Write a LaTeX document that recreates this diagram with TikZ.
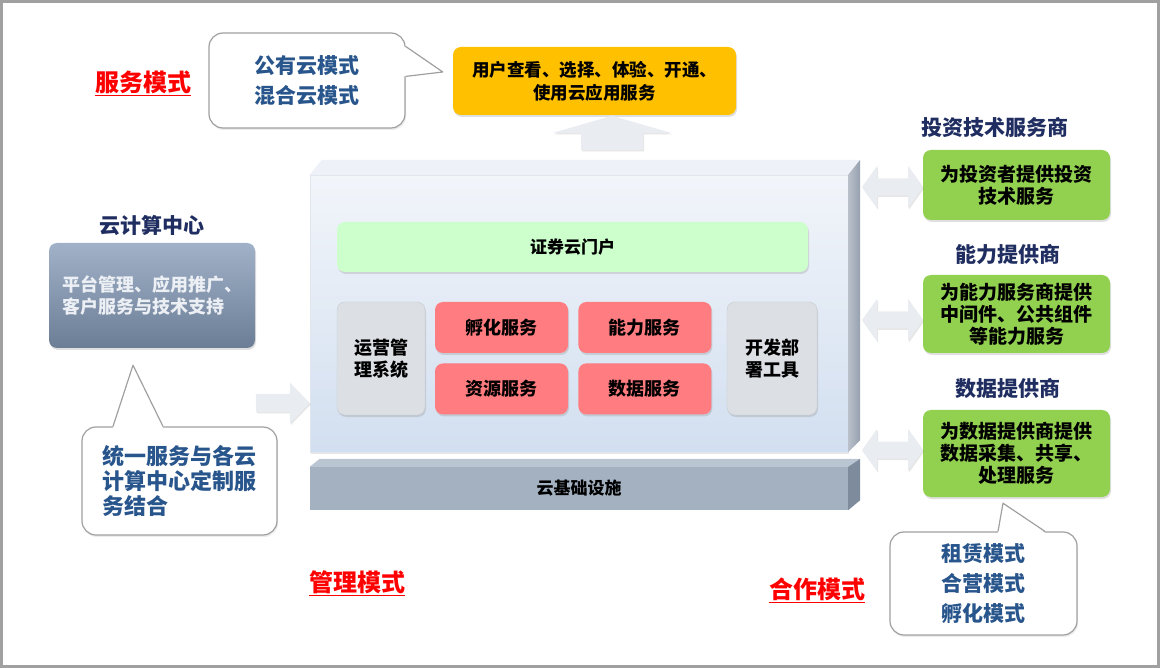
\documentclass[tikz,border=0pt]{standalone}
\usepackage{fontspec}
\setmainfont{Noto Sans CJK SC}
\usetikzlibrary{positioning}
\usetikzlibrary{calc}
\usetikzlibrary{shadows}

\definecolor{navy}{RGB}{31,45,96}
\definecolor{callblue}{RGB}{40,85,140}
\definecolor{modered}{RGB}{255,0,0}
\definecolor{useryellow}{RGB}{255,192,0}
\definecolor{partgreen}{RGB}{146,208,80}
\definecolor{portalgreen}{RGB}{204,255,204}
\definecolor{svcred}{RGB}{255,124,128}
\definecolor{toolgray}{RGB}{220,223,228}
\definecolor{toolline}{RGB}{200,204,210}
\definecolor{arrowgray}{RGB}{233,236,240}
\definecolor{framegray}{RGB}{160,160,160}
\definecolor{platline}{RGB}{225,230,238}
\definecolor{plattop}{RGB}{242,245,250}
\definecolor{platbottom}{RGB}{210,223,240}
\definecolor{platlid}{RGB}{238,242,248}
\definecolor{platsidel}{RGB}{185,192,202}
\definecolor{platsider}{RGB}{150,160,174}
\definecolor{infrafront}{RGB}{163,177,193}
\definecolor{infralid}{RGB}{186,197,210}
\definecolor{infraside}{RGB}{125,139,156}
\definecolor{cloudtop}{RGB}{160,177,200}
\definecolor{cloudbottom}{RGB}{108,126,150}
\definecolor{cloudtext}{RGB}{236,239,244}

\begin{document}
\begin{tikzpicture}[x=1pt, y=-1pt,
  box/.style={rectangle, rounded corners=8pt, align=center, inner sep=2pt, font=\bfseries\fontsize{18}{22}\selectfont, drop shadow={opacity=0.25, shadow xshift=1pt, shadow yshift=-2pt}},
  svcbox/.style={box, fill=svcred, minimum width=133pt, minimum height=51pt},
  toolbox/.style={box, fill=toolgray, draw=toolline, minimum width=88pt, minimum height=113pt},
  partbox/.style={box, fill=partgreen, minimum width=187pt, font=\bfseries\fontsize{19}{22}\selectfont},
  callbox/.style={rectangle, rounded corners=14pt, fill=white, draw=framegray, line width=1.2pt, align=center, text=callblue, font=\bfseries\fontsize{21}{30}\selectfont, drop shadow={opacity=0.15, shadow xshift=1pt, shadow yshift=-2pt}},
  calltail/.style={draw=framegray, line width=1.2pt, line join=round},
  modetitle/.style={text=modered, inner sep=0pt, font=\bfseries\fontsize{24}{28}\selectfont},
  parttitle/.style={text=navy, inner sep=0pt, font=\bfseries\fontsize{21}{24}\selectfont},
  blockarrow/.style={fill=arrowgray, drop shadow={opacity=0.2, shadow xshift=1pt, shadow yshift=-1.5pt}}
]
\useasboundingbox (0,0) rectangle (1160,668);
\draw[framegray, line width=3pt] (1.5,1.5) rectangle (1158.5,666.5);

% top: user service and service mode
\node[box, fill=useryellow, minimum width=283pt, minimum height=68pt, font=\bfseries\fontsize{17.5}{23}\selectfont] (userbox) at (594.5,81) {用户查看、选择、体验、开通、\\使用云应用服务};
\node[callbox, minimum width=196pt, minimum height=95pt] (modecall) at (307,80.5) {公有云模式\\混合云模式};
\coordinate (modetip) at ($(userbox.west)+(-10,-9)$);
\fill[white] ($(modecall.north east)+(-1.5,14)$) -- (modetip) -- ($(modecall.north east)+(-1.5,44)$) -- cycle;
\draw[calltail] ($(modecall.north east)+(0,14)$) -- (modetip) -- ($(modecall.north east)+(0,44)$);
\node[modetitle] (svcmode) at (143,83) {\underline{服务模式}};

% platform with three faces
\node[draw=platline, top color=plattop, bottom color=platbottom, minimum width=538pt, minimum height=277pt, drop shadow={opacity=0.2, shadow xshift=1pt, shadow yshift=-2pt}] (platform) at (579,313.5) {};
\fill[platlid] (platform.north west) -- ++(12,-15) -- ($(platform.north east)+(12,-15)$) -- (platform.north east) -- cycle;
\shade[left color=platsidel, right color=platsider] (platform.north east) -- ++(12,-15) -- ($(platform.south east)+(12,-12)$) -- (platform.south east) -- cycle;
\coordinate (uptail) at ($(platform.north)+(33,-25)$);
\fill[blockarrow] (uptail) ++(-31,0) -- ++(0,-17) -- ++(-28,0) -- ++(59,-17) -- ++(59,17) -- ++(-28,0) -- ++(0,17) -- cycle;

\node[box, fill=portalgreen, minimum width=471pt, minimum height=50pt, font=\bfseries\fontsize{17}{22}\selectfont] (portal) at (572.5,247) {证券云门户};
\node[svcbox] (incub) at (501.5,327.5) {孵化服务};
\node[svcbox, right=10pt of incub] (capab) {能力服务};
\node[svcbox, below=10pt of incub] (resrc) {资源服务};
\node[svcbox, right=10pt of resrc] (datasvc) {数据服务};
\node[toolbox] (opsys) at (381,358.5) {运营管\\理系统};
\node[toolbox, minimum width=90pt] (devtool) at (772,358.5) {开发部\\署工具};

% infrastructure slab
\node[fill=infrafront, minimum width=538pt, minimum height=43pt, font=\bfseries\fontsize{17}{22}\selectfont] (infra) at (579,488.5) {云基础设施};
\fill[infralid] (infra.north west) -- ++(10,-8) -- ($(infra.north east)+(12,-8)$) -- (infra.north east) -- cycle;
\fill[infraside] (infra.north east) -- ++(12,-8) -- ($(infra.south east)+(12,-10)$) -- (infra.south east) -- cycle;

% left: cloud center
\node[box, top color=cloudtop, bottom color=cloudbottom, text=cloudtext, minimum width=206pt, minimum height=105pt, align=left] (cloudbox) at (152,295.5) {平台管理、应用推广、\\客户服务与技术支持};
\node[parttitle, above=7pt of cloudbox] (cloudtitle) {云计算中心};
\coordinate (intail) at ($(platform.west)+(-54,89.5)$);
\fill[blockarrow] (intail) ++(0,-9) -- ++(34,0) -- ++(0,-11.5) -- ++(20,20.5) -- ++(-20,20.5) -- ++(0,-11.5) -- ++(-34,0) -- cycle;
\node[callbox, minimum width=195pt, minimum height=108pt, align=left, font=\bfseries\fontsize{22}{25}\selectfont] (mgmtcall) at (179.5,481) {统一服务与各云\\计算中心定制服\\务结合};
\coordinate (mgmttip) at ($(cloudbox.south)+(-19,17)$);
\fill[white] ($(mgmtcall.north)+(-66.5,1.5)$) -- (mgmttip) -- ($(mgmtcall.north)+(-16.5,1.5)$) -- cycle;
\draw[calltail] ($(mgmtcall.north)+(-66.5,0)$) -- (mgmttip) -- ($(mgmtcall.north)+(-16.5,0)$);
\node[modetitle] (mgmtmode) at (357,583) {\underline{管理模式}};

% right: partners
\node[partbox, minimum height=70pt] (invbox) at (1016.5,185) {为投资者提供投资\\技术服务};
\node[partbox, minimum height=78pt] (capbox) at (1016.5,314) {为能力服务商提供\\中间件、公共组件\\等能力服务};
\node[partbox, minimum height=87pt] (databox) at (1016.5,453.5) {为数据提供商提供\\数据采集、共享、\\处理服务};
\node[parttitle, above=12pt of invbox, xshift=-22pt] (invtitle) {投资技术服务商};
\node[parttitle, above=10pt of capbox, xshift=-9pt] (captitle) {能力提供商};
\node[parttitle, above=11pt of databox, xshift=-9pt] (datatitle) {数据提供商};
\foreach \yy in {187, 320, 450}
  \fill[blockarrow] (862,\yy) -- ++(15,-21) -- ++(0,12.5) -- ++(31,0) -- ++(0,-12.5) -- ++(15,21) -- ++(-15,21) -- ++(0,-12.5) -- ++(-31,0) -- ++(0,12.5) -- cycle;

\node[callbox, minimum width=187pt, minimum height=103pt] (coopcall) at (983.5,583.5) {租赁模式\\合营模式\\孵化模式};
\coordinate (cooptip) at ($(databox.south)+(-13.5,6)$);
\fill[white] ($(coopcall.north)+(14.5,1.5)$) -- (cooptip) -- ($(coopcall.north)+(61.5,1.5)$) -- cycle;
\draw[calltail] ($(coopcall.north)+(14.5,0)$) -- (cooptip) -- ($(coopcall.north)+(61.5,0)$);
\node[modetitle] (coopmode) at (817,590) {\underline{合作模式}};
\end{tikzpicture}
\end{document}
